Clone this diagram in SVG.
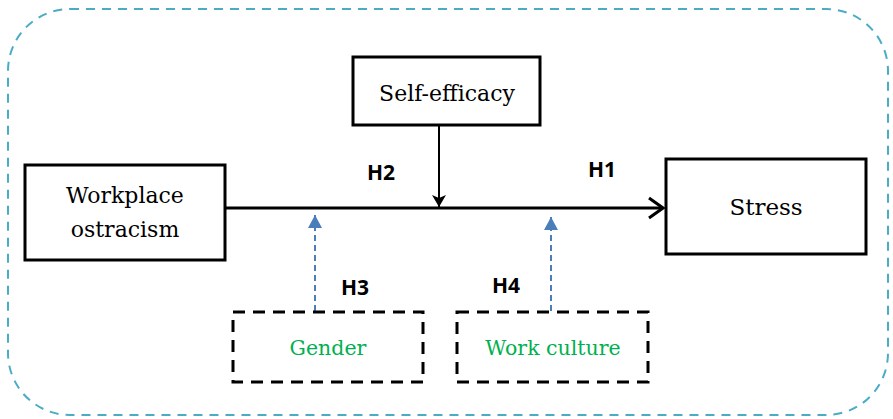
<svg xmlns="http://www.w3.org/2000/svg" width="893" height="419" viewBox="0 0 893 419">
<style>
.box{fill:#fff;stroke:#000;stroke-width:3}
.dbox{fill:none;stroke:#000;stroke-width:3;stroke-dasharray:12 8}
.t{font-family:"DejaVu Serif","Liberation Serif",serif;fill:#000;text-anchor:middle}
.g{font-family:"DejaVu Serif","Liberation Serif",serif;fill:#00B050;text-anchor:middle;font-size:20.5px}
.h{font-family:"Open Sans","Liberation Sans",sans-serif;font-weight:bold;font-size:21px;fill:#000;text-anchor:middle}
</style>
<defs>
<marker id="open" markerWidth="18" markerHeight="24" refX="16" refY="12" orient="auto" markerUnits="userSpaceOnUse">
<path d="M2,2 L16,12 L2,22" fill="none" stroke="#000" stroke-width="3"/>
</marker>
<marker id="tri" markerWidth="14" markerHeight="14" refX="12" refY="7" orient="auto" markerUnits="userSpaceOnUse">
<path d="M0,0 L12,7 L0,14 L3,7 Z" fill="#000"/>
</marker>
<marker id="blue" markerWidth="14" markerHeight="14" refX="13" refY="7" orient="auto" markerUnits="userSpaceOnUse">
<path d="M0,0 L13,7 L0,14 Z" fill="#4A7EBB"/>
</marker>
</defs>
<rect x="8" y="9" width="880" height="406" rx="62" ry="62" fill="none" stroke="#4BACC6" stroke-width="2" stroke-dasharray="9 7"/>
<g id="connectors">
<line x1="225" y1="208" x2="663" y2="208" stroke="#000" stroke-width="3" marker-end="url(#open)"/>
<line x1="439" y1="125" x2="439" y2="207" stroke="#000" stroke-width="2" marker-end="url(#tri)"/>
<line x1="315" y1="311" x2="315" y2="215" stroke="#4A7EBB" stroke-width="2" stroke-dasharray="6 4" marker-end="url(#blue)"/>
<line x1="551" y1="311" x2="551" y2="217" stroke="#4A7EBB" stroke-width="2" stroke-dasharray="6 4" marker-end="url(#blue)"/>
</g>
<g id="workplace">
<rect class="box" x="25" y="165" width="200" height="95"/>
<text class="t" x="125" y="203" font-size="22">Workplace</text>
<text class="t" x="125" y="237" font-size="22">ostracism</text>
</g>
<g id="selfefficacy">
<rect class="box" x="353" y="57" width="187" height="68"/>
<text class="t" x="447" y="101" font-size="22">Self-efficacy</text>
</g>
<g id="stress">
<rect class="box" x="666" y="159" width="200" height="95"/>
<text class="t" x="766" y="215" font-size="23">Stress</text>
</g>
<g id="gender">
<rect class="dbox" x="233" y="312" width="190" height="70"/>
<text class="g" x="328" y="355">Gender</text>
</g>
<g id="workculture">
<rect class="dbox" x="457" y="312" width="191" height="70"/>
<text class="g" x="553" y="355">Work culture</text>
</g>
<g id="labels">
<text class="h" x="381" y="180">H2</text>
<text class="h" x="602" y="177">H1</text>
<text class="h" x="355" y="295">H3</text>
<text class="h" x="506" y="293">H4</text>
</g>
</svg>
